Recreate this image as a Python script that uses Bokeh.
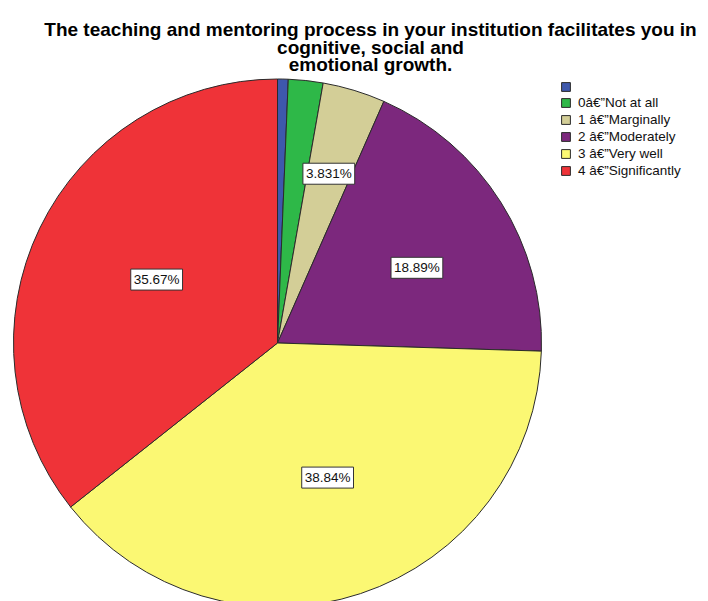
import numpy as np
from bokeh.plotting import figure
from bokeh.models import Range1d, ColumnDataSource, Label, Legend, LegendItem
from bokeh.core.properties import value
from bokeh.embed import file_html
from bokeh.resources import INLINE

# ---- data ----
categories = ["", "0\u00e2\u20ac\u201dNot at all", "1 \u00e2\u20ac\u201dMarginally",
              "2 \u00e2\u20ac\u201dModerately", "3 \u00e2\u20ac\u201dVery well",
              "4 \u00e2\u20ac\u201dSignificantly"]
percentages = [0.65, 2.119, 3.831, 18.89, 38.84, 35.67]
slice_labels = ["", "", "3.831%", "18.89%", "38.84%", "35.67%"]
colors = ["#3E58AC", "#2EB848", "#D3CE97", "#7C287D", "#FBF873", "#EF3338"]
title_lines = ["The teaching and mentoring process in your institution facilitates you in",
               "cognitive, social and",
               "emotional growth."]

# ---- layout (reference pixel space) ----
OFF = 0
W, H = 708, 601
CX, CY_REF, R = 277, 342.5, 264
CY = 601 - CY_REF
label_rf = [0.6, 0.6, 0.67, 0.60, 0.544, 0.517]
label_dang = [0, 0, 0, 3.9, -2.1, 1.9]  # degrees clockwise
FONT = "Liberation Sans"

p = figure(width=W, height=H, output_backend="svg", toolbar_location=None,
           x_range=Range1d(OFF, OFF + W), y_range=Range1d(601 - OFF - H, 601 - OFF),
           min_border=0, outline_line_color=None)
p.xaxis.visible = False
p.yaxis.visible = False
p.grid.visible = False

pct = np.array(percentages, dtype=float)
frac = pct / pct.sum()
cum_end = np.cumsum(frac)
cum_start = cum_end - frac
start = np.pi / 2 - 2 * np.pi * cum_start
end = np.pi / 2 - 2 * np.pi * cum_end

src = ColumnDataSource(dict(start=start, end=end, color=colors, cat=categories))
wr = p.wedge(x=CX, y=CY, radius=R, start_angle="start", end_angle="end",
             direction="clock", fill_color="color", line_color="#2b2b2b",
             line_width=1, source=src)

# slice labels
mid = (cum_start + cum_end) / 2
theta = np.pi / 2 - 2 * np.pi * mid - np.radians(label_dang)
lx = CX + np.array(label_rf) * R * np.cos(theta)
ly = CY + np.array(label_rf) * R * np.sin(theta)
for i, t in enumerate(slice_labels):
    if not t:
        continue
    p.add_layout(Label(x=float(lx[i]), y=float(ly[i]), text=t, text_align="center",
                       text_baseline="middle", text_font=FONT,
                       text_font_size="13.5px", text_color="#111111",
                       background_fill_color="white", border_line_color="#333333",
                       border_line_width=1, padding=3))

# title
for line, base in zip(title_lines, [28.7, 46.5, 64]):
    p.add_layout(Label(x=370, y=601 - base, text=line, text_align="center",
                       text_baseline="alphabetic", text_font=FONT,
                       text_font_size="19px", text_font_style="bold",
                       text_color="#000000"))

# legend
items = [LegendItem(label=value(c if c else " "), renderers=[wr], index=i)
         for i, c in enumerate(categories)]
legend = Legend(items=items, location=(560, 423), padding=0, margin=0,
                spacing=2, glyph_width=11, glyph_height=11, label_height=14,
                label_standoff=7, label_text_font=FONT, label_text_font_size="13.5px",
                label_text_color="#111111", border_line_alpha=0,
                background_fill_alpha=0)
p.add_layout(legend, "center")

open("out.html", "w").write(file_html(p, INLINE))
